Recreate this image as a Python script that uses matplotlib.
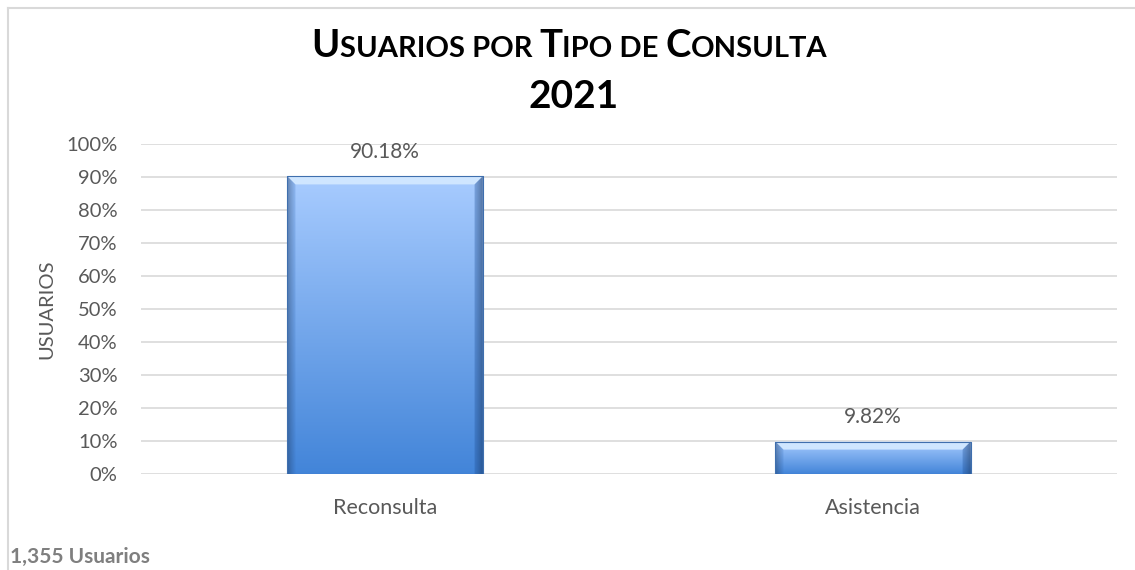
import matplotlib
matplotlib.use("Agg")
import matplotlib.pyplot as plt
import numpy as np
from matplotlib.patches import Polygon

# data
categorias = ["Reconsulta", "Asistencia"]
porcentajes = [90.18, 9.82]
etiquetas = ["90.18%", "9.82%"]
yticks = [0, 10, 20, 30, 40, 50, 60, 70, 80, 90, 100]
total_txt = "1,355 Usuarios"

plt.rcParams['font.family'] = ['Lato', 'DejaVu Sans']
gris = '#595959'
linea = '#d9d9d9'

fig = plt.figure(figsize=(11.35, 5.7), dpi=100)
ax = fig.add_axes([141 / 1135, 1 - 474 / 570, 976 / 1135, 330 / 570])

x = np.arange(len(categorias))
ancho = 0.4
ax.set_xlim(-0.5, len(categorias) - 0.5)
ax.set_ylim(0, 100)

for yt in yticks:
    ax.axhline(yt, color=linea, lw=1.2, zorder=0)

# bars with gradient fill
bars = ax.bar(x, porcentajes, width=ancho, color='none', edgecolor='none', zorder=2)
px_y = 100 / 330.0                # data units per pixel (y)
px_x = len(categorias) / 976.0    # data units per pixel (x)
for b in bars:
    x0, w, h = b.get_x(), b.get_width(), b.get_height()
    n = 256
    t = np.linspace(0, 1, n)[:, None]          # 0 top -> 1 bottom
    top = np.array([0.66, 0.80, 1.00])
    bot = np.array([0.26, 0.52, 0.85])
    img = top * (1 - t[..., None]) + bot * t[..., None]
    s = np.linspace(0, 1, 64)[None, :]
    edge = 1 - 0.25 * (np.clip(1 - s / 0.03, 0, 1) + np.clip((s - 0.97) / 0.03, 0, 1))
    img = np.repeat(img, 64, axis=1) * edge[..., None]
    im = ax.imshow(np.clip(img, 0, 1), extent=[x0, x0 + w, 0, h], aspect='auto',
                   zorder=2, interpolation='bilinear')
    im.set_clip_path(b)
    # bevel
    bv = 8 * px_y
    bx = 8 * px_x
    ax.add_patch(Polygon([[x0, h], [x0 + w, h], [x0 + w - bx, h - bv], [x0 + bx, h - bv]],
                         closed=True, facecolor='#cfe6ff', edgecolor='none', zorder=3))
    ax.add_patch(Polygon([[x0, h], [x0 + bx, h - bv], [x0 + bx, 0], [x0, 0]],
                         closed=True, facecolor='#3a6fb8', alpha=0.25, edgecolor='none', zorder=3))
    ax.add_patch(Polygon([[x0 + w, h], [x0 + w - bx, h - bv], [x0 + w - bx, 0], [x0 + w, 0]],
                         closed=True, facecolor='#1f4f94', alpha=0.35, edgecolor='none', zorder=3))
    ax.plot([x0, x0 + w, x0 + w, x0, x0], [0, 0, h, h, 0], color='#3f6fae', lw=0.8, zorder=4)

for xi, v, lab in zip(x, porcentajes, etiquetas):
    ax.annotate(lab, (xi, v), xytext=(0, 17.5), textcoords='offset points',
                ha='center', va='center', fontsize=15, color=gris)

ax.set_yticks(yticks)
ax.set_yticklabels([f"{v}%" for v in yticks], fontsize=14.5, color=gris)
ax.set_xticks(x)
ax.set_xticklabels(categorias, fontsize=15.5, color=gris)
ax.tick_params(axis='y', length=0, pad=17)
ax.tick_params(axis='x', length=0, pad=17)
for sp in ax.spines.values():
    sp.set_visible(False)
ax.set_ylabel("USUARIOS", fontsize=14.5, color=gris, labelpad=8)

# small caps title
def titulo_versalitas(fig, yc, partes, color='black'):
    r = fig.canvas.get_renderer()
    textos = []
    for s, fs in partes:
        textos.append(fig.text(0, yc, s, fontsize=fs, fontweight='bold', color=color,
                               va='baseline', ha='left'))
    anchos = [t.get_window_extent(r).width for t in textos]
    total = sum(anchos)
    W = fig.bbox.width
    xpos = (W - total) / 2 + 2
    for t, a in zip(textos, anchos):
        t.set_x(xpos / W)
        xpos += a

titulo_versalitas(fig, 1 - 57 / 570, [("U", 27.5), ("SUARIOS POR ", 21), ("T", 27.5),
                                      ("IPO DE ", 21), ("C", 27.5), ("ONSULTA", 21)])
fig.text(0.505, 1 - 108 / 570, "2021", fontsize=28, fontweight='bold', ha='center', va='baseline')

fig.text(10 / 1135, 1 - 563 / 570, total_txt, fontsize=15, fontweight='bold', color='#7f7f7f')

# chart border
fig.add_artist(plt.Line2D([8 / 1135, 1], [1 - 8 / 570, 1 - 8 / 570], color=linea, lw=1.5))
fig.add_artist(plt.Line2D([8 / 1135, 8 / 1135], [0, 1 - 8 / 570], color=linea, lw=1.5))

fig.savefig("out.png", dpi=100)
